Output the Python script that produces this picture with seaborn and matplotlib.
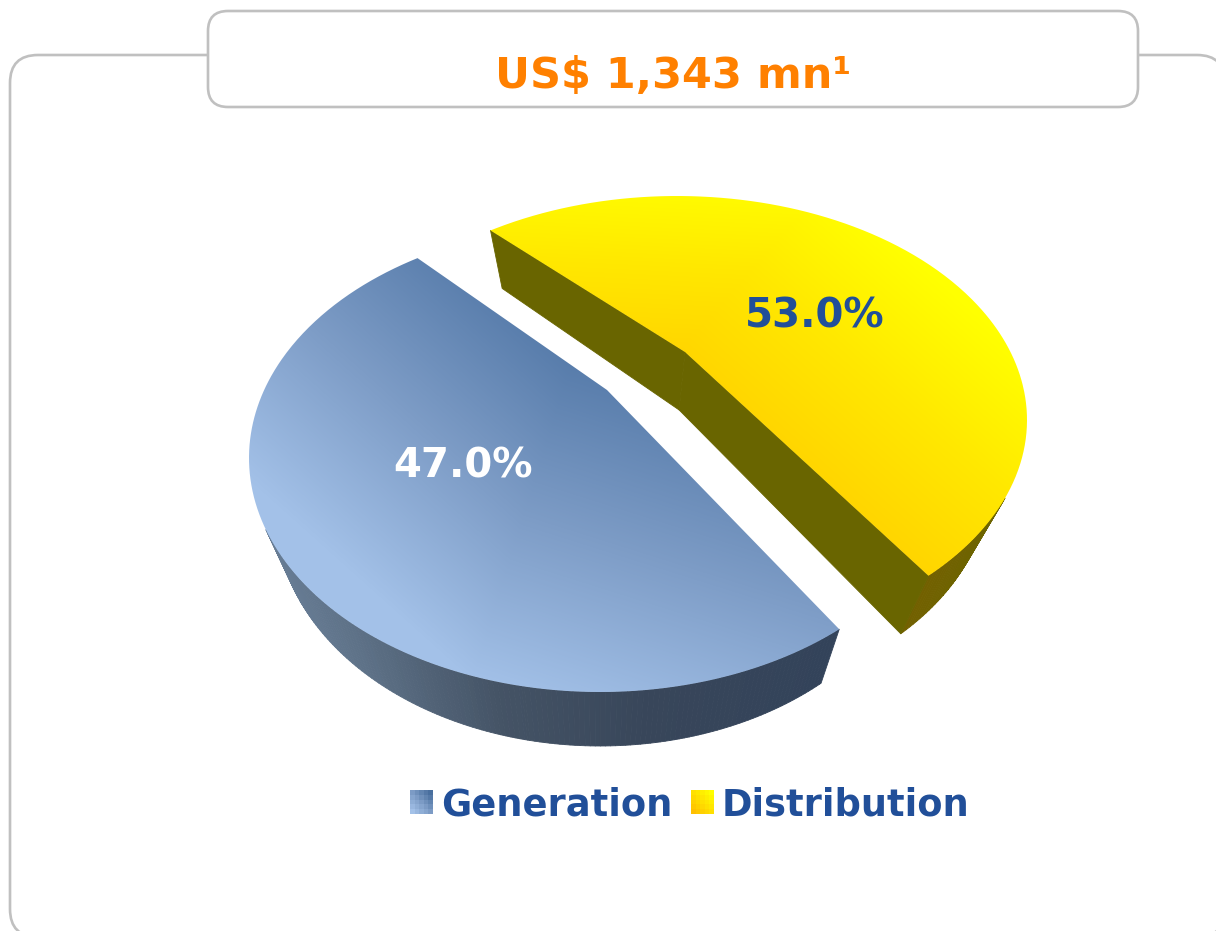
import numpy as np
import matplotlib
matplotlib.use('Agg')
import matplotlib.pyplot as plt
import seaborn as sns
from matplotlib.collections import PolyCollection
from matplotlib.patches import FancyBboxPatch, Patch, PathPatch
from matplotlib.path import Path
from matplotlib.transforms import Affine2D

# DATA
segments = ['Generation', 'Distribution']
shares = [47.0, 53.0]
title_text = 'US$ 1,343 mn\u00b9'

# LOOK OF EACH SLICE (pixel layout of the tilted pie, y goes down)
slice_styles = [
    dict(centre=(600, 458), semi=(351, 234), tip=(607, 390), vanish_x=600, shrink=0.924, depth=54, turn=0,
         face=['#557AA9', '#7D9CC6', '#A3C1E8'], grad_from=(575, 350), grad_dir=(-0.3, 0.95), grad_len=345,
         bend_from=(575, 350), bend_dir=(-0.43, -0.135),
         wall=['#677C94', '#5E7288', '#445365', '#38465A', '#33435A'], wall_x=[275, 350, 500, 650, 840],
         swatch=['#A3C1E8', '#7D9CC6', '#496F9E']),
    dict(centre=(677, 420), semi=(350, 224), tip=(685, 352), vanish_x=620, shrink=0.91, depth=58, turn=1.8,
         face=['#FFD500', '#FFE800', '#FFFF00'], grad_from=(770, 440), grad_dir=(0.66, -0.75), grad_len=230,
         bend_from=(680, 350), bend_dir=(-0.6, -0.53),
         wall=['#696500', '#696500', '#745F00', '#6C6500'], wall_x=[480, 890, 910, 1015],
         swatch=['#FFC000', '#FFE000', '#FFFF00']),
]
label_spots = [(463, 466), (815, 316)]
label_colors = ['white', '#214F99']
BLUE_TEXT = '#214F99'
ORANGE = '#FF8000'
GREY = '#C0C0C0'


def tilt(points, style):
    """Put points of the unit pie onto the tilted ellipse, centre of the pie going to the tip."""
    cx, cy = style['centre']
    a, b = style['semi']
    xy = points * [1, -1]
    p = np.array([(style['tip'][0] - cx) / a, (style['tip'][1] - cy) / b])
    size = np.hypot(*p)
    n = p / size
    along = xy @ n
    across = xy - np.outer(along, n)
    bottom = 1 + size * along
    moved = np.outer((along + size) / bottom, n) + across * (np.sqrt(1 - size ** 2) / bottom)[:, None]
    return moved * [a, b] + [cx, cy]


def draw_slice(ax, wedge, style, zorder):
    """Side wall as small quads, then the top face with its gradient."""
    to_big = Affine2D().rotate_deg(style['turn']).scale(4000)
    outline = to_big.transform_path(wedge.get_patch_transform().transform_path(wedge.get_path()))
    unit_pts = outline.to_polygons()[0] / 4000
    top = tilt(unit_pts, style)

    low = top.copy()
    low[:, 0] = style['vanish_x'] + (top[:, 0] - style['vanish_x']) * style['shrink']
    low[:, 1] = top[:, 1] + style['depth']

    # only the quads that face the viewer
    quads = []
    x_mid = []
    for i in range(len(top) - 1):
        edge = top[i + 1] - top[i]
        drop = low[i] - top[i]
        if -edge[1] * drop[0] + edge[0] * drop[1] > 0:
            quads.append([top[i], top[i + 1], low[i + 1], low[i]])
            x_mid.append((top[i][0] + top[i + 1][0]) / 2)
    wall_cmap = sns.blend_palette(style['wall'], n_colors=256, as_cmap=True)
    pos = np.interp(x_mid, style['wall_x'], np.linspace(0, 1, len(style['wall_x'])))
    colors = wall_cmap(pos)
    ax.add_collection(PolyCollection(quads, facecolors=colors, edgecolors=colors, linewidths=0.6, zorder=zorder))

    face = PathPatch(Path(top), facecolor='none', edgecolor='none', zorder=zorder + 1)
    ax.add_patch(face)
    yy, xx = np.mgrid[0:931, 0:1216]
    t = (xx - style['grad_from'][0]) * style['grad_dir'][0] + (yy - style['grad_from'][1]) * style['grad_dir'][1]
    extra = (xx - style['bend_from'][0]) * style['bend_dir'][0] + (yy - style['bend_from'][1]) * style['bend_dir'][1]
    t = np.clip((t + np.maximum(extra, 0)) / style['grad_len'], 0, 1)
    img = ax.imshow(t, extent=(0, 1216, 931, 0), origin='upper', aspect='auto', vmin=0, vmax=1,
                    cmap=sns.blend_palette(style['face'], n_colors=256, as_cmap=True), zorder=zorder + 1)
    img.set_clip_path(face)


sns.set_theme(style='white')
plt.rcParams['font.family'] = ['DejaVu Sans']

fig = plt.figure(figsize=(12.16, 9.31), dpi=100)
ax = fig.add_axes([0, 0, 1, 1])

wedges, _, autotexts = ax.pie(shares, startangle=132.5, autopct='%.1f%%', frame=True)

for i, (wedge, style) in enumerate(zip(wedges, slice_styles)):
    draw_slice(ax, wedge, style, zorder=3 + i * 2)
    wedge.set_visible(False)

for text, spot, color in zip(autotexts, label_spots, label_colors):
    text.set_position(spot)
    text.set_color(color)
    text.set_fontsize(29)
    text.set_fontweight('bold')
    text.set_va('center')
    text.set_ha('center')
    text.set_zorder(10)

ax.set_aspect('auto')
ax.set_xlim(0, 1216)
ax.set_ylim(931, 0)
ax.axis('off')

# Outer panel and title box
ax.add_patch(FancyBboxPatch((10, 55), 1215, 882, boxstyle='round,pad=0,rounding_size=28',
                            facecolor='white', edgecolor=GREY, linewidth=1.9, zorder=1))
ax.add_patch(FancyBboxPatch((208, 11), 930, 96, boxstyle='round,pad=0,rounding_size=20',
                            facecolor='white', edgecolor=GREY, linewidth=1.9, zorder=2))
ax.text(673, 76, title_text, color=ORANGE, fontsize=31, fontweight='bold', ha='center', va='center', zorder=10)

# Legend, with the little gradient squares laid over its handles
handles = [Patch(facecolor='none', edgecolor='none') for _ in segments]
leg = ax.legend(handles, segments, ncol=2, loc='center', bbox_to_anchor=(690, 805), bbox_transform=ax.transData,
                frameon=False, labelcolor=BLUE_TEXT, prop=dict(weight='bold', size=26.5),
                handlelength=0.62, handleheight=0.6, handletextpad=0.22, columnspacing=0.5)
fig.canvas.draw()
to_data = ax.transData.inverted()
cells = np.add.outer(np.linspace(0, 0.5, 5), np.linspace(0, 0.5, 5))
for handle, style in zip(leg.legend_handles, slice_styles):
    box = handle.get_window_extent().transformed(to_data)
    ax.imshow(cells, extent=(box.x0, box.x1, box.y0, box.y1), origin='lower', aspect='auto',
              interpolation='nearest', vmin=0, vmax=1,
              cmap=sns.blend_palette(style['swatch'], n_colors=256, as_cmap=True), zorder=12)
ax.set_xlim(0, 1216)
ax.set_ylim(931, 0)

fig.savefig('out.png', dpi=100)
